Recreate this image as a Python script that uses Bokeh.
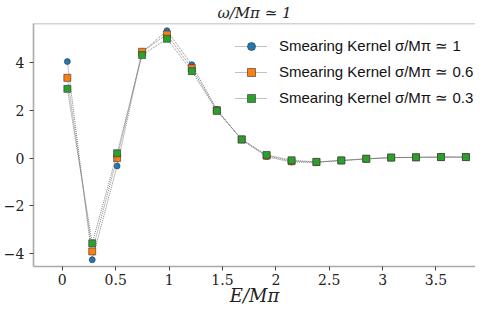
from bokeh.plotting import figure
from bokeh.models import Legend, LegendItem, Span, Range1d, FixedTicker
from bokeh.embed import file_html
from bokeh.resources import INLINE

E = [0.047, 0.280, 0.513, 0.747, 0.980, 1.213, 1.447, 1.680, 1.913,
     2.147, 2.380, 2.613, 2.847, 3.080, 3.313, 3.547, 3.780]
rho_sigma_1 = [4.03, -4.25, -0.33, 4.42, 5.32, 3.90, 2.03, 0.77, 0.06,
               -0.17, -0.18, -0.11, -0.04, 0.01, 0.03, 0.04, 0.04]
rho_sigma_06 = [3.35, -3.90, 0.00, 4.44, 5.16, 3.75, 2.00, 0.77, 0.10,
                -0.13, -0.17, -0.10, -0.03, 0.02, 0.03, 0.04, 0.04]
rho_sigma_03 = [2.89, -3.56, 0.20, 4.30, 4.98, 3.63, 1.97, 0.78, 0.13,
                -0.09, -0.16, -0.10, -0.03, 0.02, 0.03, 0.04, 0.04]
labels = ["Smearing Kernel σ/Mπ ≃ 1",
          "Smearing Kernel σ/Mπ ≃ 0.6",
          "Smearing Kernel σ/Mπ ≃ 0.3"]
x_ticks = [0.0, 0.5, 1.0, 1.5, 2.0, 2.5, 3.0, 3.5]
y_ticks = [-4, -2, 0, 2, 4]

SERIF = "'DejaVu Serif', 'Liberation Serif', serif"
Y_TOP = 5.62

p = figure(width=475, height=308, output_backend="svg", toolbar_location=None,
           x_range=Range1d(-0.27, 3.87), y_range=Range1d(-4.53, Y_TOP),
           min_border_left=4, min_border_right=0, min_border_top=3, min_border_bottom=0)
p.title.text = "ω/Mπ ≃ 1"
p.title.align = "center"
p.title.text_font = SERIF
p.title.text_font_style = "italic"
p.title.text_font_size = "15px"
p.title.text_color = "#222222"
p.title.standoff = 3

p.outline_line_color = None
p.grid.grid_line_color = None
p.background_fill_color = "white"

spine = "#aaaaaa"
for ax in (p.xaxis[0], p.yaxis[0]):
    ax.axis_line_color = spine
    ax.axis_line_width = 1.6
    ax.major_tick_line_color = "#444444"
    ax.major_tick_out = 4
    ax.major_tick_in = 0
    ax.minor_tick_line_color = None
    ax.major_label_text_font = SERIF
    ax.major_label_text_font_size = "14px"
    ax.major_label_text_color = "#222222"

p.xaxis.ticker = FixedTicker(ticks=x_ticks)
p.yaxis.ticker = FixedTicker(ticks=y_ticks)
p.yaxis.major_label_overrides = {t: str(t).replace("-", "−") for t in y_ticks}
p.xaxis.axis_label = "E/Mπ"
p.xaxis.axis_label_text_font = SERIF
p.xaxis.axis_label_text_font_style = "italic"
p.xaxis.axis_label_text_font_size = "18px"
p.xaxis.axis_label_text_color = "#222222"
p.xaxis.axis_label_standoff = -3
p.xaxis.major_label_standoff = 3

p.add_layout(Span(location=Y_TOP, dimension="width", line_color=spine, line_width=1.6))

series = [
    (rho_sigma_1, "#1f77b4", "circle", 6),
    (rho_sigma_06, "#ff7f0e", "square", 7),
    (rho_sigma_03, "#2ca02c", "square", 7),
]
items = []
for (vals, col, mk, sz), lab in zip(series, labels):
    ln = p.line(E, vals, line_color="#777777", line_width=1, line_dash="1 1", line_alpha=0.9)
    sc = p.scatter(E, vals, marker=mk, size=sz, fill_color=col,
                   line_color="#333333", line_width=0.6)
    items.append(LegendItem(label=lab, renderers=[ln, sc]))

legend = Legend(items=items, location=(202, 158))
legend.label_text_font = "Liberation Sans"
legend.label_text_font_size = "15px"
legend.label_text_color = "#111111"
legend.border_line_color = None
legend.background_fill_alpha = 0.85
legend.glyph_width = 32
legend.glyph_height = 20
legend.label_height = 20
legend.label_standoff = 12
legend.spacing = 6
legend.margin = 0
legend.padding = 4
p.add_layout(legend)

open("out.html", "w").write(file_html(p, INLINE))
